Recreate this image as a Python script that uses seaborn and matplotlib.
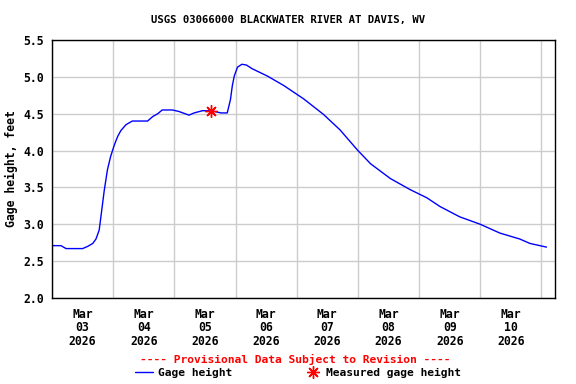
import pandas as pd
import seaborn as sns
import matplotlib
matplotlib.use("Agg")
import matplotlib.pyplot as plt
import matplotlib.dates as mdates
from matplotlib.lines import Line2D

# Gage height readings
times = [
    "2026-03-03 00:00", "2026-03-03 03:30", "2026-03-03 05:30", "2026-03-03 12:00",
    "2026-03-03 14:00", "2026-03-03 16:00", "2026-03-03 17:15", "2026-03-03 18:30",
    "2026-03-03 19:15", "2026-03-03 20:30", "2026-03-03 21:45", "2026-03-03 23:00",
    "2026-03-04 00:30", "2026-03-04 01:45", "2026-03-04 03:00", "2026-03-04 05:00",
    "2026-03-04 07:30", "2026-03-04 13:30", "2026-03-04 15:30", "2026-03-04 17:30",
    "2026-03-04 19:15", "2026-03-04 23:15", "2026-03-05 01:45", "2026-03-05 05:45",
    "2026-03-05 07:45", "2026-03-05 11:00", "2026-03-05 14:30", "2026-03-05 18:15",
    "2026-03-05 20:45", "2026-03-05 22:00", "2026-03-05 22:45", "2026-03-05 23:30",
    "2026-03-06 00:45", "2026-03-06 02:30", "2026-03-06 04:15", "2026-03-06 06:30",
    "2026-03-06 12:30", "2026-03-06 19:00", "2026-03-07 02:45", "2026-03-07 10:30",
    "2026-03-07 17:00", "2026-03-07 23:45", "2026-03-08 05:00", "2026-03-08 12:45",
    "2026-03-08 20:30", "2026-03-09 03:00", "2026-03-09 08:15", "2026-03-09 16:00",
    "2026-03-10 00:00", "2026-03-10 07:45", "2026-03-10 15:30", "2026-03-10 19:30",
    "2026-03-11 02:00",
]
gage_height = [
    2.71, 2.71, 2.67, 2.67,
    2.70, 2.74, 2.80, 2.92,
    3.12, 3.46, 3.74, 3.92,
    4.08, 4.19, 4.27, 4.35,
    4.40, 4.40, 4.46, 4.50,
    4.55, 4.55, 4.53, 4.48,
    4.51, 4.54, 4.54, 4.51,
    4.51, 4.69, 4.88, 5.01,
    5.13, 5.17, 5.16, 5.11,
    5.01, 4.88, 4.70, 4.49,
    4.28, 4.01, 3.82, 3.62,
    3.47, 3.36, 3.24, 3.10,
    3.00, 2.88, 2.80, 2.74,
    2.69,
]

# Field measurement
measured_time = ["2026-03-05 14:30"]
measured_height = [4.53]

y_ticks = [2.0, 2.5, 3.0, 3.5, 4.0, 4.5, 5.0, 5.5]

df = pd.DataFrame({"time": pd.to_datetime(times), "gage_height": gage_height})
meas = pd.DataFrame({"time": pd.to_datetime(measured_time), "height": measured_height})

sns.set_style("white")
plt.rcParams["font.family"] = ["DejaVu Sans Mono"]
plt.rcParams["font.weight"] = "bold"
plt.rcParams["font.size"] = 8
for key in ["text.color", "axes.labelcolor", "xtick.color", "ytick.color"]:
    plt.rcParams[key] = "black"

fig = plt.figure(figsize=(5.76, 3.84), dpi=100)
ax = fig.add_axes([0.0903, 0.224, 0.8732, 0.672])

sns.lineplot(data=df, x="time", y="gage_height", ax=ax, color="blue", linewidth=1)
ax.plot(meas["time"], meas["height"], linestyle="none", marker=(8, 2, 0),
        markersize=9, color="red", markeredgewidth=1)

ax.set_xlim(pd.Timestamp("2026-03-03 00:00"), pd.Timestamp("2026-03-11 05:20"))
ax.set_ylim(2.0, 5.5)
ax.set_yticks(y_ticks)
ax.set_yticklabels([f"{v:.1f}" for v in y_ticks], fontweight="bold")

ax.xaxis.set_major_locator(mdates.HourLocator(byhour=12))
ax.xaxis.set_major_formatter(mdates.DateFormatter("%b\n%d\n%Y"))
ax.xaxis.set_minor_locator(mdates.DayLocator())

ax.grid(False)
ax.yaxis.grid(True, color="#cccccc", linewidth=1)
ax.xaxis.grid(True, which="minor", color="#cccccc", linewidth=1)
ax.tick_params(axis="both", which="both", length=0, labelsize=8.3)
ax.tick_params(axis="x", pad=7)
ax.tick_params(axis="y", pad=6)
for s in ax.spines.values():
    s.set_color("black")
    s.set_linewidth(1)

ax.set_xlabel("")
ax.set_ylabel("Gage height, feet", fontsize=8.3, fontweight="bold", labelpad=3.5)

fig.text(0.5, 0.948, "USGS 03066000 BLACKWATER RIVER AT DAVIS, WV",
         ha="center", va="center", fontsize=7.7, fontweight="bold")
fig.text(0.512, 0.065, "---- Provisional Data Subject to Revision ----",
         ha="center", va="center", fontsize=8.1, color="red", fontweight="bold")

handles = [
    Line2D([], [], color="blue", linewidth=1),
    Line2D([], [], color="red", linestyle="none", marker=(8, 2, 0),
           markersize=9, markeredgewidth=1),
]
fig.legend(handles, ["Gage height", "Measured gage height"], loc="center",
           bbox_to_anchor=(0.518, 0.029), ncol=2, frameon=False,
           handlelength=1.6, handletextpad=0.4, columnspacing=6.4,
           prop={"size": 8.1, "weight": "bold"}, borderpad=0, borderaxespad=0)

fig.canvas.draw()
for lbl in ax.get_xticklabels():
    lbl.set_linespacing(1.05)
    lbl.set_fontweight("bold")

fig.savefig("out.png", dpi=100)
